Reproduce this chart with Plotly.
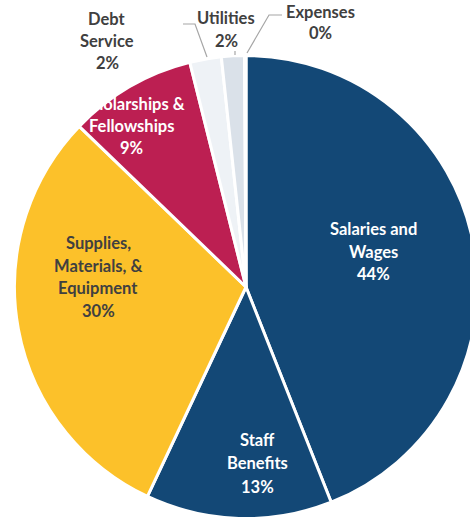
import plotly.graph_objects as go

# ---- data ----
categories = ["Salaries and Wages", "Staff Benefits", "Supplies, Materials, & Equipment",
              "Scholarships & Fellowships", "Debt Service", "Utilities", "Expenses"]
values = [44.0, 13.0, 30.2, 8.9, 2.2, 1.6, 0.1]
label_lines = [["Salaries and", "Wages"], ["Staff", "Benefits"],
               ["Supplies,", "Materials, &", "Equipment"], ["Scholarships &", "Fellowships"],
               ["Debt", "Service"], ["Utilities"], ["Expenses"]]

# ---- style ----
colors = ["#134876", "#134876", "#FCC12A", "#BC1F52", "#EEF2F6", "#DAE1E9", "#C8D2DC"]
text_colors = ["white", "white", "#404040", "white", "#404040", "#404040", "#404040"]
# label block centers (pixels)
label_pos = [(373, 251.5), (257, 463), (98, 277), (131, 126), (107, 41), (226, 29.5), (320, 22.5)]
line_gap = [22.5, 23.5, 22.6, 21.5, 22.5, 23, 21]

W, H = 480, 525


def px(x, y):
    return x / W, 1 - y / H


cx, cy, r = 246, 287, 231.5

fig = go.Figure(go.Pie(
    labels=categories, values=values, sort=False, direction="clockwise", rotation=0,
    marker=dict(colors=colors, line=dict(color="white", width=3)),
    textinfo="none", hoverinfo="label+percent", showlegend=False,
    domain=dict(x=[(cx - r) / W, (cx + r) / W], y=[(H - cy - r) / H, (H - cy + r) / H]),
))

total = sum(values)
annotations = []
for i, lines in enumerate(label_lines):
    pct = f"{round(values[i] / total * 100)}%"
    all_lines = lines + [pct]
    n = len(all_lines)
    lx, ly = label_pos[i]
    for k, t in enumerate(all_lines):
        yy = ly + (k - (n - 1) / 2) * line_gap[i]
        ax, ay = px(lx, yy)
        annotations.append(dict(
            x=ax, y=ay, xref="paper", yref="paper", text=t, showarrow=False,
            xanchor="center", yanchor="middle",
            font=dict(family="Lato", size=16.5, color=text_colors[i], weight="bold"),
        ))

leaders = [[(183, 24), (195, 24), (207, 57)], [(235, 51), (235, 55)], [(282, 15), (269, 15), (247, 53)]]
shapes = []
for pts in leaders:
    path = ""
    for j, (x, y) in enumerate(pts):
        X, Y = px(x, y)
        path += ("M" if j == 0 else " L") + f" {X:.5f},{Y:.5f}"
    shapes.append(dict(type="path", path=path, xref="paper", yref="paper",
                       line=dict(color="#A6A6A6", width=1.2)))

fig.update_layout(
    width=W, height=H, margin=dict(l=0, r=0, t=0, b=0),
    paper_bgcolor="white", plot_bgcolor="white",
    annotations=annotations, shapes=shapes,
)

fig.write_html("out.html", config={"displayModeBar": False},
               post_script="document.body.style.margin='0';document.body.style.overflow='hidden';")
